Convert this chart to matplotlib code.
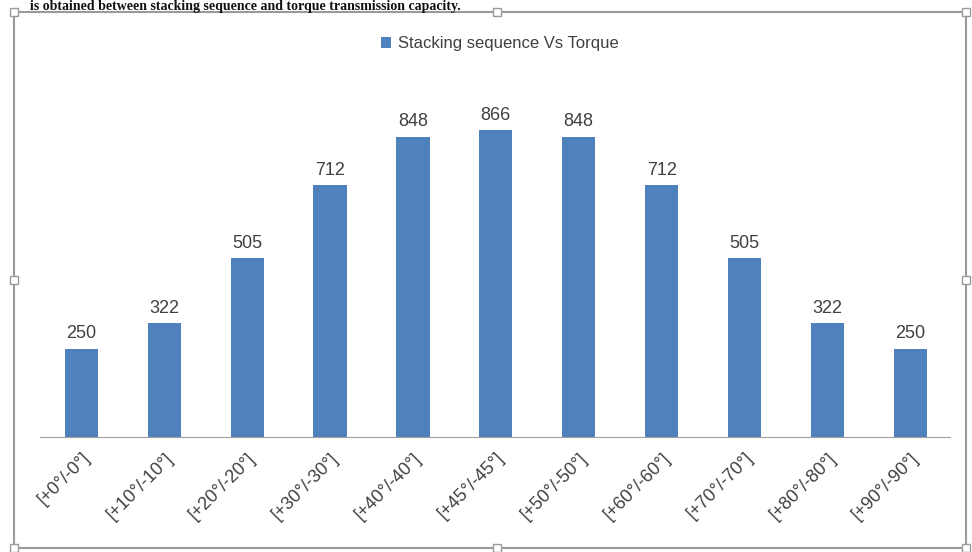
import numpy as np
import matplotlib as mpl
import matplotlib.pyplot as plt
from matplotlib.patches import Rectangle

mpl.use('Agg')

categories = ['[+0°/-0°]', '[+10°/-10°]', '[+20°/-20°]', '[+30°/-30°]', '[+40°/-40°]',
              '[+45°/-45°]', '[+50°/-50°]', '[+60°/-60°]', '[+70°/-70°]', '[+80°/-80°]',
              '[+90°/-90°]']
torque = [250, 322, 505, 712, 848, 866, 848, 712, 505, 322, 250]
series_name = 'Stacking sequence Vs Torque'
header = 'is obtained between stacking sequence and torque transmission capacity.'

plt.rcParams['font.family'] = ['Liberation Sans', 'DejaVu Sans']
text_col = '#404040'
bar_col = '#4F81BD'
frame_col = '#9A9A9A'

W, H = 972, 552
fig = plt.figure(figsize=(W / 100, H / 100), dpi=100)
ax = fig.add_axes([40 / W, 1 - 437 / H, 910 / W, 354 / H])

x = np.arange(len(categories))
ax.bar(x, torque, width=0.4, color=bar_col, label=series_name)
for xi, v in zip(x, torque):
    ax.text(xi, v + 18, str(v), ha='center', va='bottom', fontsize=13, color=text_col)

ax.set_xlim(-0.5, 10.48)
ax.set_ylim(0, 1000)
ax.set_yticks([])
ax.set_xticks(x)
ax.set_xticklabels(categories, rotation=45, ha='right', rotation_mode='anchor',
                   fontsize=13, color=text_col)
ax.tick_params(axis='x', length=0, pad=9)
for s in ['top', 'right', 'left']:
    ax.spines[s].set_visible(False)
ax.spines['bottom'].set_color('#A0A0A0')

ax.legend(loc='center', bbox_to_anchor=(500 / W, 1 - 44 / H), bbox_transform=fig.transFigure,
          frameon=False, fontsize=12, handlelength=0.6, handleheight=0.6,
          handletextpad=0.4, labelcolor=text_col)

# document text above the chart
fig.text(30 / W, 1 - 10 / H, header, ha='left', va='baseline', fontsize=10,
         fontweight='bold', family=['Liberation Serif', 'DejaVu Serif'], color='#111111')

# selection frame around the chart
fig.add_artist(Rectangle((14 / W, 1 - 548 / H), 952 / W, 536 / H, transform=fig.transFigure,
                         fill=False, edgecolor=frame_col, lw=1.5))
for hx, hy in [(14, 280), (966, 280), (497, 12), (497, 548),
               (14, 12), (14, 548), (966, 12), (966, 548)]:
    fig.add_artist(Rectangle(((hx - 4) / W, 1 - (hy + 4) / H), 8 / W, 8 / H,
                             transform=fig.transFigure, facecolor='white',
                             edgecolor=frame_col, lw=1))

fig.savefig('out.png', dpi=100)
